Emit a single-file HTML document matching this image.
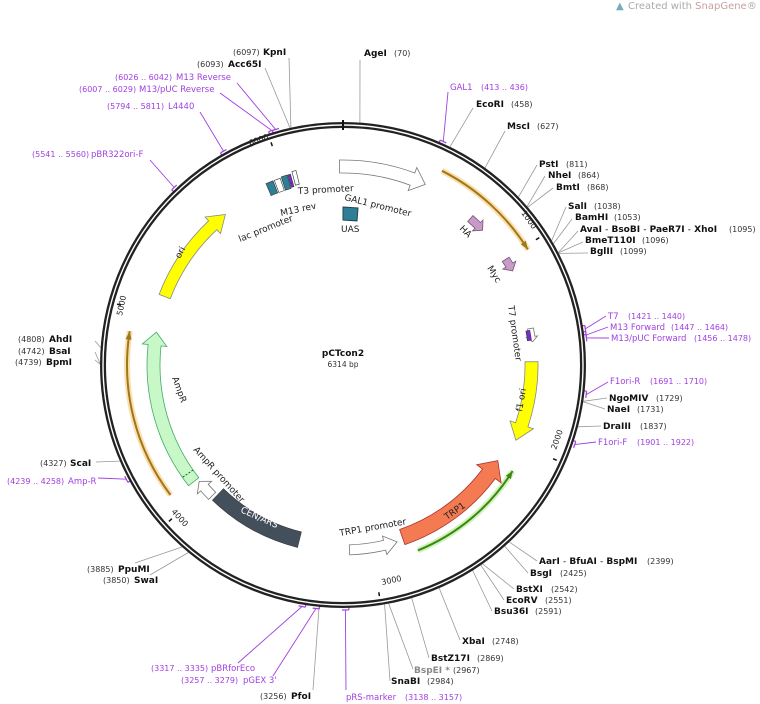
<!DOCTYPE html>
<html><head><meta charset="utf-8"><style>
html,body{margin:0;padding:0;background:#fff;width:760px;height:704px;overflow:hidden}
svg{font-family:"DejaVu Sans","Liberation Sans",sans-serif}
.b{font-weight:bold;font-size:9px;fill:#111}
.n{font-size:8px;fill:#333}
.p{font-size:8.5px;fill:#a040e0}
.pn{font-size:8px;fill:#a040e0}
.f{font-size:9px;fill:#222}
</style></head><body>
<svg id="s" width="760" height="704" viewBox="0 0 760 704" xmlns="http://www.w3.org/2000/svg">
<text x="628" y="9" font-size="10" fill="#aaa">Created with <tspan fill="#c6a0a0">SnapGene</tspan>®</text>
<text x="616" y="9" font-size="10" fill="#7ab">▲</text>
<g id="lines"></g>
<g id="feat"></g>
<circle cx="343" cy="365" r="240" fill="none" stroke="#222" stroke-width="6"/>
<circle cx="343" cy="365" r="240" fill="none" stroke="#fff" stroke-width="1.4"/>
<line x1="343" y1="120" x2="343" y2="130" stroke="#111" stroke-width="2"/>
<text x="343" y="356" text-anchor="middle" font-size="9" font-weight="bold" fill="#111">pCTcon2</text>
<text x="343" y="367" text-anchor="middle" font-size="7.5" fill="#333">6314 bp</text>
<text transform="translate(250,146) rotate(-20)" font-size="8" fill="#222">6000</text>
<text transform="translate(521,213) rotate(55)" font-size="8" fill="#222">1000</text>
<text transform="translate(556,450) rotate(-70)" font-size="8" fill="#222">2000</text>
<text transform="translate(382,585) rotate(-12)" font-size="8" fill="#222">3000</text>
<text transform="translate(171,512) rotate(48)" font-size="8" fill="#222">4000</text>
<text transform="translate(122,316) rotate(-78)" font-size="8" fill="#222">5000</text>
<text transform="translate(240,242) rotate(-22)" class="f">lac promoter</text>
<text transform="translate(281,216) rotate(-12)" class="f">M13 rev</text>
<text transform="translate(298,194) rotate(-3)" class="f">T3 promoter</text>
<text transform="translate(344,200) rotate(14)" class="f">GAL1 promoter</text>
<text x="341" y="232" class="f">UAS</text>
<text transform="translate(459,229) rotate(45)" class="f">HA</text>
<text transform="translate(487,268) rotate(58)" class="f">Myc</text>
<text transform="translate(508,306) rotate(82)" class="f">T7 promoter</text>
<text transform="translate(522,412) rotate(-80)" class="f">f1 ori</text>
<text transform="translate(447,520) rotate(-35)" class="f" fill="#222">TRP1</text>
<text transform="translate(340,536) rotate(-10)" class="f">TRP1 promoter</text>
<text transform="translate(240,512) rotate(24)" font-size="9" fill="#fff">CEN/ARS</text>
<text transform="translate(193,450) rotate(48)" class="f">AmpR promoter</text>
<text transform="translate(172,378) rotate(70)" class="f">AmpR</text>
<text transform="translate(180,259) rotate(-62)" class="f">ori</text>
<text x="233" y="55" class="n">(6097)</text><text x="263" y="55" class="b">KpnI</text>
<text x="197" y="67" class="n">(6093)</text><text x="228" y="67" class="b">Acc65I</text>
<text x="115" y="80" class="pn">(6026 .. 6042)</text><text x="176" y="80" class="p">M13 Reverse</text>
<text x="79" y="92" class="pn">(6007 .. 6029)</text><text x="139" y="92" class="p">M13/pUC Reverse</text>
<text x="107" y="109" class="pn">(5794 .. 5811)</text><text x="168" y="109" class="p">L4440</text>
<text x="32" y="157" class="pn">(5541 .. 5560)</text><text x="91" y="157" class="p">pBR322ori-F</text>
<text x="364" y="56" class="b">AgeI</text><text x="394" y="56" class="n">(70)</text>
<text x="450" y="90" class="p">GAL1</text><text x="481" y="90" class="pn">(413 .. 436)</text>
<text x="476" y="107" class="b">EcoRI</text><text x="511" y="107" class="n">(458)</text>
<text x="507" y="129" class="b">MscI</text><text x="537" y="129" class="n">(627)</text>
<text x="539" y="167" class="b">PstI</text><text x="566" y="167" class="n">(811)</text>
<text x="548" y="178" class="b">NheI</text><text x="578" y="178" class="n">(864)</text>
<text x="556" y="190" class="b">BmtI</text><text x="587" y="190" class="n">(868)</text>
<text x="568" y="209" class="b">SalI</text><text x="594" y="209" class="n">(1038)</text>
<text x="575" y="220" class="b">BamHI</text><text x="614" y="220" class="n">(1053)</text>
<text x="580" y="232" class="b">AvaI <tspan font-weight="normal">-</tspan> BsoBI <tspan font-weight="normal">-</tspan> PaeR7I <tspan font-weight="normal">-</tspan> XhoI</text><text x="729" y="232" class="n">(1095)</text>
<text x="585" y="243" class="b">BmeT110I</text><text x="642" y="243" class="n">(1096)</text>
<text x="590" y="254" class="b">BglII</text><text x="620" y="254" class="n">(1099)</text>
<text x="608" y="319" class="p">T7</text><text x="628" y="319" class="pn">(1421 .. 1440)</text>
<text x="610" y="330" class="p">M13 Forward</text><text x="671" y="330" class="pn">(1447 .. 1464)</text>
<text x="611" y="341" class="p">M13/pUC Forward</text><text x="694" y="341" class="pn">(1456 .. 1478)</text>
<text x="610" y="384" class="p">F1ori-R</text><text x="650" y="384" class="pn">(1691 .. 1710)</text>
<text x="609" y="401" class="b">NgoMIV</text><text x="656" y="401" class="n">(1729)</text>
<text x="607" y="412" class="b">NaeI</text><text x="637" y="412" class="n">(1731)</text>
<text x="603" y="429" class="b">DraIII</text><text x="640" y="429" class="n">(1837)</text>
<text x="598" y="445" class="p">F1ori-F</text><text x="637" y="445" class="pn">(1901 .. 1922)</text>
<text x="539" y="564" class="b">AarI <tspan font-weight="normal">-</tspan> BfuAI <tspan font-weight="normal">-</tspan> BspMI</text><text x="647" y="564" class="n">(2399)</text>
<text x="530" y="576" class="b">BsgI</text><text x="560" y="576" class="n">(2425)</text>
<text x="516" y="592" class="b">BstXI</text><text x="551" y="592" class="n">(2542)</text>
<text x="506" y="603" class="b">EcoRV</text><text x="545" y="603" class="n">(2551)</text>
<text x="494" y="614" class="b">Bsu36I</text><text x="535" y="614" class="n">(2591)</text>
<text x="462" y="644" class="b">XbaI</text><text x="492" y="644" class="n">(2748)</text>
<text x="431" y="661" class="b">BstZ17I</text><text x="477" y="661" class="n">(2869)</text>
<text x="414" y="673" class="b" style="fill:#888">BspEI *</text><text x="453" y="673" class="n">(2967)</text>
<text x="391" y="684" class="b">SnaBI</text><text x="427" y="684" class="n">(2984)</text>
<text x="346" y="700" class="p">pRS-marker</text><text x="405" y="700" class="pn">(3138 .. 3157)</text>
<text x="151" y="671" class="pn">(3317 .. 3335)</text><text x="211" y="671" class="p">pBRforEco</text>
<text x="181" y="683" class="pn">(3257 .. 3279)</text><text x="243" y="683" class="p">pGEX 3'</text>
<text x="260" y="699" class="n">(3256)</text><text x="291" y="699" class="b">PfoI</text>
<text x="87" y="572" class="n">(3885)</text><text x="118" y="572" class="b">PpuMI</text>
<text x="103" y="583" class="n">(3850)</text><text x="134" y="583" class="b">SwaI</text>
<text x="18" y="342" class="n">(4808)</text><text x="49" y="342" class="b">AhdI</text>
<text x="18" y="354" class="n">(4742)</text><text x="49" y="354" class="b">BsaI</text>
<text x="15" y="365" class="n">(4739)</text><text x="46" y="365" class="b">BpmI</text>
<text x="40" y="466" class="n">(4327)</text><text x="70" y="466" class="b">ScaI</text>
<text x="7" y="484" class="pn">(4239 .. 4258)</text><text x="68" y="484" class="p">Amp-R</text>
</svg>
<script>
var cx=343,cy=365,T=6314,NS="http://www.w3.org/2000/svg";
function P(r,a){a=a*Math.PI/180;return [cx+r*Math.sin(a),cy-r*Math.cos(a)];}
function A(bp){return bp/T*360;}
function el(g,tag,at){var e=document.createElementNS(NS,tag);for(var k in at)e.setAttribute(k,at[k]);document.getElementById(g).appendChild(e);return e;}
function f(p){return p[0].toFixed(1)+","+p[1].toFixed(1);}
function arrow(r1,r2,a1,a2,head,fill,stroke){
  var d=a2>a1?1:-1,hb=a2-d*head,hr=(r2-r1)*0.45;
  var lg=Math.abs(hb-a1)>180?1:0,sw=d>0?1:0;
  var p="M"+f(P(r2,a1))+" A"+r2+","+r2+" 0 "+lg+" "+sw+" "+f(P(r2,hb))+" L"+f(P(r2+hr,hb))+" L"+f(P((r1+r2)/2,a2))+" L"+f(P(r1-hr,hb))+" L"+f(P(r1,hb))+" A"+r1+","+r1+" 0 "+lg+" "+(1-sw)+" "+f(P(r1,a1))+" Z";
  el("feat","path",{d:p,fill:fill,stroke:stroke,"stroke-width":0.8});
}
function band(r1,r2,a1,a2,fill){
  var p="M"+f(P(r2,a1))+" A"+r2+","+r2+" 0 0 1 "+f(P(r2,a2))+" L"+f(P(r1,a2))+" A"+r1+","+r1+" 0 0 0 "+f(P(r1,a1))+" Z";
  el("feat","path",{d:p,fill:fill,stroke:"#333","stroke-width":0.6});
}
function line(r,a1,a2,col,w,glow){
  var d=a2>a1?1:-1;var p="M"+f(P(r,a1))+" A"+r+","+r+" 0 0 "+(d>0?1:0)+" "+f(P(r,a2));
  el("feat","path",{d:p,fill:"none",stroke:glow,"stroke-width":w+4,"stroke-opacity":0.45});
  el("feat","path",{d:p,fill:"none",stroke:col,"stroke-width":w});
  var t=P(r,a2),b1=P(r+3,a2-d*2.2),b2=P(r-3,a2-d*2.2);
  el("feat","path",{d:"M"+f(t)+" L"+f(b1)+" L"+f(b2)+" Z",fill:col});
}
arrow(192,205,-1,24.5,4,"#fff","#777");
line(218,27,58,"#a0761a",2,"#f5b84a");
arrow(182,195,89,113.5,5,"#ffff00","#888");
line(200,158,122,"#3a8a10",2,"#9be06a");
arrow(174,190,161,121.7,5,"#f47a52","#a33");
arrow(180,190,178,163,4,"#fff","#777");
band(172,188,194,224,"#43505c");
arrow(180,190,225,231,2.5,"#fff","#777");
arrow(183,196,232,280,4,"#c8f8c8","#4a6");
line(216,233,279,"#a0761a",2,"#f5b84a");
arrow(185,197,291,322,5,"#ffff00","#888");
el("feat","path",{d:"M"+f(P(183,235))+" L"+f(P(196,235)),stroke:"#060","stroke-width":1,"stroke-dasharray":"2,1.5"});
arrow(190,198,41,46,2,"#c89ac8","#757");
arrow(190,198,57,61,2,"#c89ac8","#757");
arrow(188,194,79,83,1.5,"#fff","#777");
band(186,190,79.5,82.5,"#7a2ad0");
band(184,197,337,339.2,"#2e7f96");
band(184,197,339.6,341.4,"#fff");
band(184,198,341.8,343.6,"#2e7f96");
band(185,198,343.8,344.6,"#7a2ad0");
band(186,200,345.2,346.4,"#fff");
el("feat","path",{d:"M343,207 L358,208 L357,221 L343,220 Z",fill:"#2e7f96",stroke:"#245"});
[1000,2000,3000,4000,5000,6000].forEach(function(b){var a=A(b);el("feat","path",{d:"M"+f(P(230,a))+" L"+f(P(234,a)),stroke:"#111","stroke-width":1.5});});
var L=[[6097,289,58],[6093,265,68],[70,360,60],[458,473,108],[627,505,131],[811,537,165],[864,545,176],[868,553,188],[1038,566,207],[1053,572,219],[1095,578,231],[1096,583,242],[1099,588,253],
[1729,607,398],[1731,605,409],[1837,601,426],[2399,537,561],[2425,528,573],[2542,514,589],[2551,504,600],[2591,492,611],[2748,460,640],[2869,429,658],[2967,413,669],[2984,390,681],[3256,313,690],[3885,135,563],[3850,150,575],[4808,95,341],[4742,95,352],[4739,95,360],[4327,96,462]];
L.forEach(function(l){var s=P(243,A(l[0]));el("lines","path",{d:"M"+f(s)+" L"+l[1]+","+l[2],stroke:"#999","stroke-width":0.8,fill:"none"});});
var Pr=[[6034,237,83],[6018,220,93],[5802,200,112],[5550,150,160],[424,448,92],[1430,606,316],[1455,608,327],[1467,609,338],[1700,608,382],[1911,596,442],[3147,346,690],[3326,238,663],[3268,273,676],[4248,98,478]];
Pr.forEach(function(l){var a=A(l[0]),s=P(245,a);el("lines","path",{d:"M"+f(s)+" L"+l[1]+","+l[2],stroke:"#a040e0","stroke-width":0.9,fill:"none"});
 el("lines","path",{d:"M"+f(P(245,a-0.8))+" L"+f(P(245,a+0.8))+" M"+f(P(245,a-0.8))+" L"+f(P(241,a-0.8)),stroke:"#a040e0","stroke-width":1.2,fill:"none"});});
</script>
</body></html>
